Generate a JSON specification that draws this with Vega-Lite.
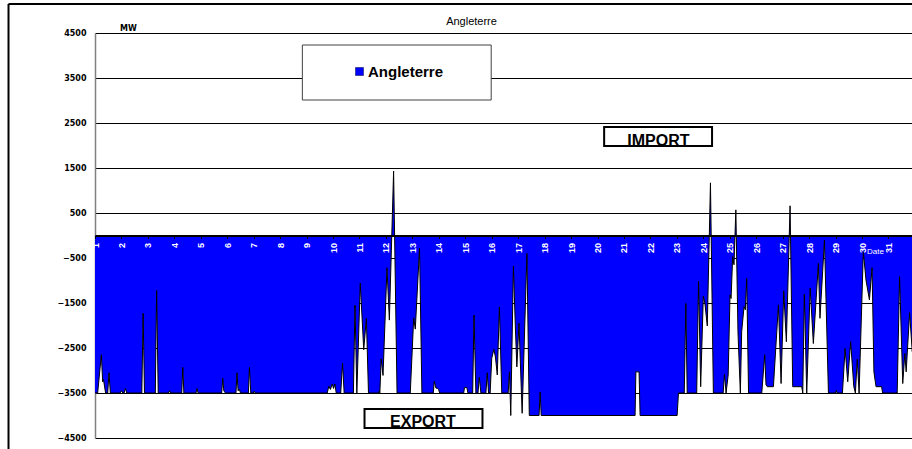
{
  "$schema": "https://vega.github.io/schema/vega-lite/v6.json",
  "width": 817,
  "height": 405,
  "autosize": {"type": "none"},
  "padding": {"left": 95, "top": 33, "right": 0, "bottom": 11},
  "background": "white",
  "title": {"text": "Angleterre", "font": "Liberation Sans", "fontSize": 11, "fontWeight": "normal", "color": "black", "anchor": "middle", "baseline": "alphabetic", "offset": 0, "dx": -32, "dy": 33},
  "config": {
    "view": {"stroke": null},
    "axis": {"labelOverlap": false, "labelFlush": false, "labelBound": false}
  },
  "datasets": {
    "series": [
      {"d": 1.00, "mw": -3500}, {"d": 1.10, "mw": -3500}, {"d": 1.24, "mw": -2650}, {"d": 1.29, "mw": -3250}, {"d": 1.32, "mw": -3200}, {"d": 1.40, "mw": -3500}, {"d": 1.48, "mw": -3500}, {"d": 1.53, "mw": -3050}, {"d": 1.58, "mw": -3500},
      {"d": 1.95, "mw": -3500}, {"d": 2.00, "mw": -3450}, {"d": 2.05, "mw": -3500}, {"d": 2.10, "mw": -3500}, {"d": 2.15, "mw": -3400}, {"d": 2.20, "mw": -3500},
      {"d": 2.77, "mw": -3500}, {"d": 2.82, "mw": -1730}, {"d": 2.87, "mw": -3500},
      {"d": 3.28, "mw": -3500}, {"d": 3.33, "mw": -1220}, {"d": 3.39, "mw": -3500},
      {"d": 3.78, "mw": -3500}, {"d": 3.82, "mw": -3450}, {"d": 3.86, "mw": -3500},
      {"d": 4.28, "mw": -3500}, {"d": 4.32, "mw": -2930}, {"d": 4.36, "mw": -3500},
      {"d": 4.82, "mw": -3500}, {"d": 4.86, "mw": -3400}, {"d": 4.90, "mw": -3500},
      {"d": 5.79, "mw": -3500}, {"d": 5.83, "mw": -3170}, {"d": 5.87, "mw": -3450}, {"d": 5.93, "mw": -3500},
      {"d": 6.33, "mw": -3500}, {"d": 6.37, "mw": -3050}, {"d": 6.41, "mw": -3450}, {"d": 6.46, "mw": -3420}, {"d": 6.50, "mw": -3500},
      {"d": 6.80, "mw": -3500}, {"d": 6.84, "mw": -2930}, {"d": 6.89, "mw": -3500}, {"d": 6.98, "mw": -3500}, {"d": 7.02, "mw": -3460}, {"d": 7.06, "mw": -3500},
      {"d": 9.78, "mw": -3500}, {"d": 9.84, "mw": -3350}, {"d": 9.90, "mw": -3420}, {"d": 9.97, "mw": -3300}, {"d": 10.02, "mw": -3400}, {"d": 10.07, "mw": -3300}, {"d": 10.12, "mw": -3500},
      {"d": 10.29, "mw": -3500}, {"d": 10.36, "mw": -2840}, {"d": 10.42, "mw": -3500},
      {"d": 10.77, "mw": -3500}, {"d": 10.83, "mw": -1550}, {"d": 10.90, "mw": -3500}, {"d": 11.03, "mw": -1060}, {"d": 11.16, "mw": -2540}, {"d": 11.26, "mw": -1840}, {"d": 11.34, "mw": -3500},
      {"d": 11.71, "mw": -3500}, {"d": 11.74, "mw": -3460}, {"d": 11.77, "mw": -3500}, {"d": 11.82, "mw": -2740}, {"d": 11.89, "mw": -3110}, {"d": 12.04, "mw": -715}, {"d": 12.13, "mw": -1880}, {"d": 12.29, "mw": 1430}, {"d": 12.42, "mw": -3500},
      {"d": 12.92, "mw": -3500}, {"d": 13.05, "mw": -1830}, {"d": 13.11, "mw": -2080}, {"d": 13.27, "mw": -285}, {"d": 13.36, "mw": -3500},
      {"d": 13.79, "mw": -3500}, {"d": 13.83, "mw": -3240}, {"d": 13.89, "mw": -3390}, {"d": 13.95, "mw": -3400}, {"d": 13.99, "mw": -3420}, {"d": 14.03, "mw": -3500},
      {"d": 14.94, "mw": -3500}, {"d": 14.97, "mw": -3380}, {"d": 15.06, "mw": -3380}, {"d": 15.10, "mw": -3500},
      {"d": 15.28, "mw": -3500}, {"d": 15.33, "mw": -1770}, {"d": 15.40, "mw": -3500},
      {"d": 15.48, "mw": -3500}, {"d": 15.53, "mw": -3150}, {"d": 15.59, "mw": -3500},
      {"d": 15.78, "mw": -3500}, {"d": 15.83, "mw": -3050}, {"d": 15.88, "mw": -3500},
      {"d": 15.94, "mw": -3500}, {"d": 16.00, "mw": -2730}, {"d": 16.08, "mw": -2530}, {"d": 16.14, "mw": -2700}, {"d": 16.21, "mw": -3100}, {"d": 16.29, "mw": -1590}, {"d": 16.38, "mw": -3500},
      {"d": 16.62, "mw": -3500}, {"d": 16.67, "mw": -3030}, {"d": 16.72, "mw": -4000}, {"d": 16.82, "mw": -680}, {"d": 16.89, "mw": -1990}, {"d": 16.95, "mw": -2920}, {"d": 17.03, "mw": -1950}, {"d": 17.15, "mw": -3950}, {"d": 17.33, "mw": -400}, {"d": 17.42, "mw": -4000},
      {"d": 17.79, "mw": -4000}, {"d": 17.83, "mw": -3480}, {"d": 17.87, "mw": -4000},
      {"d": 21.42, "mw": -4000}, {"d": 21.45, "mw": -3030}, {"d": 21.57, "mw": -3030}, {"d": 21.61, "mw": -4000},
      {"d": 23.01, "mw": -4000}, {"d": 23.06, "mw": -3500}, {"d": 23.28, "mw": -3500}, {"d": 23.34, "mw": -1510}, {"d": 23.39, "mw": -3500},
      {"d": 23.75, "mw": -3500}, {"d": 23.82, "mw": -1010}, {"d": 23.90, "mw": -3360}, {"d": 24.00, "mw": -1350}, {"d": 24.06, "mw": -1510}, {"d": 24.15, "mw": -2010}, {"d": 24.27, "mw": 1170}, {"d": 24.38, "mw": -3500},
      {"d": 24.75, "mw": -3500}, {"d": 24.80, "mw": -3080}, {"d": 24.86, "mw": -3500}, {"d": 24.94, "mw": -3100}, {"d": 25.01, "mw": -1320}, {"d": 25.05, "mw": -1400}, {"d": 25.11, "mw": -470}, {"d": 25.16, "mw": -650}, {"d": 25.23, "mw": 570}, {"d": 25.31, "mw": -2140}, {"d": 25.40, "mw": -3500}, {"d": 25.45, "mw": -2140}, {"d": 25.54, "mw": -1580}, {"d": 25.59, "mw": -1650}, {"d": 25.64, "mw": -950}, {"d": 25.71, "mw": -3500},
      {"d": 26.21, "mw": -3500}, {"d": 26.32, "mw": -2650}, {"d": 26.37, "mw": -3320}, {"d": 26.42, "mw": -3360}, {"d": 26.65, "mw": -3360}, {"d": 26.84, "mw": -1540}, {"d": 26.94, "mw": -3290}, {"d": 27.04, "mw": -1230}, {"d": 27.14, "mw": -2360}, {"d": 27.28, "mw": 660}, {"d": 27.38, "mw": -3360}, {"d": 27.72, "mw": -3360}, {"d": 27.76, "mw": -3500}, {"d": 27.82, "mw": -1300}, {"d": 27.91, "mw": -3500}, {"d": 28.04, "mw": -1170}, {"d": 28.16, "mw": -2400}, {"d": 28.35, "mw": -620}, {"d": 28.41, "mw": -1840}, {"d": 28.58, "mw": -100}, {"d": 28.73, "mw": -3500},
      {"d": 29.00, "mw": -3500}, {"d": 29.03, "mw": -3440}, {"d": 29.06, "mw": -3500}, {"d": 29.26, "mw": -3500}, {"d": 29.36, "mw": -2510}, {"d": 29.46, "mw": -3250}, {"d": 29.57, "mw": -2360}, {"d": 29.69, "mw": -3360}, {"d": 29.75, "mw": -3500}, {"d": 29.82, "mw": -2750}, {"d": 29.89, "mw": -3500},
      {"d": 30.05, "mw": -360}, {"d": 30.15, "mw": -990}, {"d": 30.28, "mw": -1430}, {"d": 30.38, "mw": -715}, {"d": 30.45, "mw": -3030}, {"d": 30.53, "mw": -3360}, {"d": 30.74, "mw": -3360}, {"d": 30.78, "mw": -3500},
      {"d": 31.33, "mw": -3500}, {"d": 31.42, "mw": -915}, {"d": 31.54, "mw": -3290}, {"d": 31.62, "mw": -2620}, {"d": 31.67, "mw": -3030}, {"d": 31.80, "mw": -1715}, {"d": 31.90, "mw": -2580}, {"d": 31.97, "mw": -2100}
    ],
    "boxes": [
      {"kind": "legend", "d": 8.84, "d2": 15.98, "mw": 4233, "mw2": 3011},
      {"kind": "import", "d": 20.25, "d2": 24.33, "mw": 2411, "mw2": 1989},
      {"kind": "export", "d": 11.19, "d2": 15.65, "mw": -3856, "mw2": -4278}
    ],
    "notes": [
      {"d": 22.30, "mw": 2000, "label": "IMPORT"},
      {"d": 13.40, "mw": -4265, "label": "EXPORT"}
    ],
    "frame": [
      {"d": -2.27, "d2": 40, "mw": 5144, "mw2": 5144},
      {"d": -2.27, "d2": -2.27, "mw": 5144, "mw2": -4900}
    ]
  },
  "encoding": {
    "x": {
      "field": "d", "type": "quantitative",
      "scale": {"domain": [1, 31.89], "nice": false, "zero": false},
      "axis": {
        "values": [1,2,3,4,5,6,7,8,9,10,11,12,13,14,15,16,17,18,19,20,21,22,23,24,25,26,27,28,29,30,31],
        "format": "d", "orient": "bottom", "offset": -202.5, "zindex": 1, "grid": false,
        "domainColor": "black", "domainWidth": 2, "tickColor": "black", "tickSize": 3, "tickWidth": 1,
        "labelAngle": 270, "labelColor": "white", "labelFont": "Liberation Sans", "labelFontSize": 9, "labelFontWeight": "bold",
        "labelPadding": 4, "labelFlush": false, "labelOverlap": false, "labelBound": false, "labelSeparation": 0,
        "title": "Date", "titleColor": "white", "titleFont": "Liberation Sans", "titleFontSize": 8, "titleFontWeight": "normal",
        "titleX": 780, "titleY": 16, "titleAlign": "center", "titleBaseline": "middle"
      }
    },
    "y": {
      "field": "mw", "type": "quantitative",
      "scale": {"domain": [-4500, 4500], "nice": false, "zero": false},
      "axis": {
        "values": [-4500,-3500,-2500,-1500,-500,500,1500,2500,3500,4500],
        "format": "d", "grid": true, "gridColor": "black", "gridWidth": 1, "gridOpacity": 1,
        "domainColor": "#808080", "domainWidth": 1.5, "ticks": false, "labelPadding": 9,
        "labelFont": "DejaVu Sans", "labelFontSize": 8, "labelFontWeight": "bold", "labelColor": "black",
        "labelFlush": false, "labelOverlap": false,
        "title": "MW", "titleAngle": 0, "titleX": 33, "titleY": -5, "titleAlign": "center", "titleBaseline": "middle",
        "titleFont": "DejaVu Sans", "titleFontSize": 8, "titleFontWeight": "bold", "titleColor": "black"
      }
    }
  },
  "layer": [
    {
      "data": {"name": "series"},
      "mark": {"type": "area", "clip": true, "interpolate": "linear"},
      "encoding": {
        "y2": {"datum": 0},
        "color": {
          "datum": "Angleterre",
          "scale": {"range": ["#0000FF"]},
          "legend": {
            "orient": "none", "legendX": 257, "legendY": 31, "padding": 0, "title": null,
            "symbolType": "square", "symbolSize": 64, "symbolStrokeColor": "#000040", "symbolStrokeWidth": 0.5,
            "labelFont": "Liberation Sans", "labelFontSize": 15, "labelFontWeight": "bold", "labelColor": "black", "labelOffset": 1
          }
        }
      }
    },
    {
      "data": {"name": "series"},
      "mark": {"type": "line", "color": "black", "strokeWidth": 1, "clip": true},
      "encoding": {}
    },
    {
      "data": {"name": "boxes"},
      "mark": {"type": "rect", "fill": "white", "clip": false},
      "encoding": {
        "x2": {"field": "d2"},
        "y2": {"field": "mw2"},
        "stroke": {"condition": {"test": "datum.kind === 'legend'", "value": "#404040"}, "value": "black"},
        "strokeWidth": {"condition": {"test": "datum.kind === 'legend'", "value": 1}, "value": 2}
      }
    },
    {
      "data": {"name": "notes"},
      "mark": {"type": "text", "font": "Liberation Sans", "fontSize": 16, "fontWeight": "bold", "color": "black", "baseline": "alphabetic", "align": "center"},
      "encoding": {
        "text": {"field": "label"}
      }
    },
    {
      "data": {"name": "frame"},
      "mark": {"type": "rule", "color": "black", "strokeWidth": 2, "clip": false},
      "encoding": {
        "x2": {"field": "d2"},
        "y2": {"field": "mw2"}
      }
    }
  ]
}
